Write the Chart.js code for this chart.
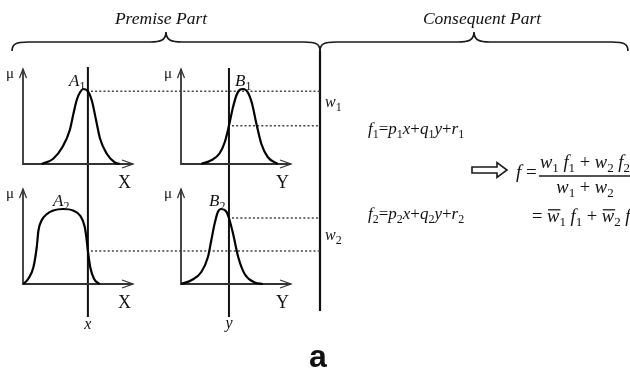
<!DOCTYPE html>
<html>
<head>
<meta charset="utf-8">
<style>
  html, body { margin: 0; padding: 0; background: #fff; }
  canvas { display: block; }
</style>
<script src="https://cdn.jsdelivr.net/npm/chart.js@4.4.1/dist/chart.umd.min.js"></script>
</head>
<body>
<canvas id="anfis" width="630" height="374"></canvas>
<script>
// Two-rule first-order Sugeno system: premise membership functions and consequent formulas

// membership functions: universe value (0..10) and grade (0..1)
const uA1  = [1.7, 2.75, 3.6, 4.25, 4.6, 4.9, 5.2, 5.5, 5.9, 6.25, 6.65, 7.0, 7.6, 8.35, 8.8];
const muA1 = [0, 0.07, 0.23, 0.45, 0.68, 0.86, 0.96, 1.0, 0.97, 0.85, 0.58, 0.34, 0.14, 0.02, 0];
const uB1  = [1.85, 2.75, 3.5, 4.0, 4.36, 4.7, 5.05, 5.35, 5.65, 6.05, 6.45, 6.85, 7.3, 7.9, 8.8];
const muB1 = [0, 0.05, 0.14, 0.3, 0.51, 0.74, 0.92, 0.99, 1.0, 0.96, 0.81, 0.54, 0.27, 0.09, 0];
const uA2  = [0.03, 0.48, 0.94, 1.25, 1.4, 1.7, 2.15, 2.75, 3.65, 4.55, 5.2, 5.6, 5.78, 5.9, 6.12, 6.45, 6.95];
const muA2 = [0, 0.07, 0.22, 0.49, 0.71, 0.85, 0.93, 0.98, 1.0, 0.98, 0.91, 0.77, 0.6, 0.44, 0.22, 0.07, 0];
const uB2  = [0.03, 0.94, 1.85, 2.45, 2.75, 3.05, 3.35, 3.65, 4.1, 4.36, 4.75, 5.2, 5.8, 6.7, 7.45];
const muB2 = [0, 0.05, 0.16, 0.36, 0.58, 0.8, 0.96, 1.0, 0.97, 0.88, 0.66, 0.36, 0.13, 0.02, 0];

// crisp inputs and the grades they hit (A1, B1, A2, B2)
const inputX = 5.9;
const inputY = 4.36;
const firing = [0.97, 0.51, 0.44, 0.88];

// labels
const mfNames = ['A_1', 'B_1', 'A_2', 'B_2'];
const axisNames = ['X', 'Y', 'X', 'Y'];
const ruleWeights = ['w_1', 'w_2'];
const consequents = ['f_1=p_1x+q_1y+r_1', 'f_2=p_2x+q_2y+r_2'];

// ---- layout (page pixels) ----
const W = 630, H = 374;
const UNIT = 11, GRADE = 75, AXIS_LEN = 110, AXIS_TOP = 95;
const panels = [
  { x0: 23,  y0: 164 },
  { x0: 181, y0: 164 },
  { x0: 23,  y0: 284 },
  { x0: 181, y0: 284 }
];
const labelPos = [ { x: 69, y: 86 }, { x: 235, y: 86 }, { x: 53, y: 206 }, { x: 209, y: 206 } ];
const SEP_X = 320;
const SERIF = "'Liberation Serif', 'DejaVu Serif', serif";
const INK = '#111';

const toPage = (p, u, m) => ({ x: p.x0 + u * UNIT, y: p.y0 - m * GRADE });

const mfs = [
  { u: uA1, mu: muA1 }, { u: uB1, mu: muB1 },
  { u: uA2, mu: muA2 }, { u: uB2, mu: muB2 }
];
const inputs = [inputX, inputY, inputX, inputY];

function lineSet(data, opts) {
  return Object.assign({
    data, showLine: true, pointRadius: 0, borderColor: INK, borderWidth: 1.6,
    fill: false, tension: 0
  }, opts || {});
}

const datasets = [];

// membership curves
mfs.forEach((mf, i) => {
  datasets.push(lineSet(mf.u.map((u, k) => toPage(panels[i], u, mf.mu[k])),
    { borderWidth: 2.2, cubicInterpolationMode: 'monotone', borderColor: '#000' }));
});

// dotted level lines from each intersection to the rule separator
mfs.forEach((mf, i) => {
  const s = toPage(panels[i], inputs[i], firing[i]);
  datasets.push(lineSet([{ x: s.x + 3, y: s.y }, { x: SEP_X, y: s.y }],
    { borderDash: [2, 2.2], borderWidth: 1.6, borderColor: '#444' }));
});

// axes with open arrowheads
panels.forEach(p => {
  const top = p.y0 - AXIS_TOP, tip = p.x0 + AXIS_LEN;
  datasets.push(lineSet([{ x: p.x0, y: top }, { x: p.x0, y: p.y0 }, { x: tip, y: p.y0 }],
    { borderColor: '#333', borderWidth: 1.8 }));
  datasets.push(lineSet([{ x: p.x0 - 3.5, y: top + 9 }, { x: p.x0, y: top }, { x: p.x0 + 3.5, y: top + 9 }],
    { borderColor: '#333', borderWidth: 1.3 }));
  datasets.push(lineSet([{ x: tip - 11, y: p.y0 - 4 }, { x: tip, y: p.y0 }, { x: tip - 11, y: p.y0 + 4 }],
    { borderColor: '#333', borderWidth: 1.3 }));
});

// crisp input lines and the separator between premise and consequent
const xLine = panels[0].x0 + inputX * UNIT;
const yLine = panels[1].x0 + inputY * UNIT;
datasets.push(lineSet([{ x: xLine, y: 67 }, { x: xLine, y: 317 }], { borderWidth: 2 }));
datasets.push(lineSet([{ x: yLine, y: 68 }, { x: yLine, y: 317 }], { borderWidth: 2 }));
datasets.push(lineSet([{ x: SEP_X, y: 51 }, { x: SEP_X, y: 311 }], { borderWidth: 2.2 }));

// small math typesetter: letters italic, "_c" subscript, "^c" overbar
function mathText(ctx, src, x, y, size, align) {
  const runs = [];
  for (let i = 0; i < src.length; i++) {
    let ch = src[i], sub = false, bar = false;
    if (ch === '^') { bar = true; ch = src[++i]; }
    if (ch === '_') { sub = true; ch = src[++i]; }
    runs.push({ ch, sub, bar });
  }
  const fontFor = r => {
    const s = r.sub ? Math.round(size * 0.72) : size;
    return (/[a-zA-Z]/.test(r.ch) ? 'italic ' : '') + s + 'px ' + SERIF;
  };
  let total = 0;
  runs.forEach(r => {
    ctx.font = fontFor(r);
    r.w = r.ch === ' ' ? size * 0.25 : ctx.measureText(r.ch).width;
    total += r.w;
  });
  let cx = align === 'center' ? x - total / 2 : x;
  ctx.textAlign = 'left';
  ctx.textBaseline = 'alphabetic';
  runs.forEach(r => {
    if (r.ch !== ' ') {
      ctx.font = fontFor(r);
      ctx.fillText(r.ch, cx, r.sub ? y + size * 0.24 : y);
    }
    if (r.bar) {
      ctx.beginPath();
      ctx.lineWidth = 1.3;
      ctx.moveTo(cx + 1, y - size * 0.66);
      ctx.lineTo(cx + r.w + 1, y - size * 0.66);
      ctx.stroke();
    }
    cx += r.w;
  });
  return total;
}

function brace(ctx, x1, x2, yEnd, yTop, yCusp) {
  const mid = (x1 + x2) / 2;
  ctx.beginPath();
  ctx.moveTo(x1, yEnd);
  ctx.bezierCurveTo(x1, yTop + 2, x1 + 4, yTop, x1 + 16, yTop);
  ctx.lineTo(mid - 16, yTop);
  ctx.bezierCurveTo(mid - 5, yTop, mid, yTop - 2, mid, yCusp);
  ctx.bezierCurveTo(mid, yTop - 2, mid + 5, yTop, mid + 16, yTop);
  ctx.lineTo(x2 - 16, yTop);
  ctx.bezierCurveTo(x2 - 4, yTop, x2, yTop + 2, x2, yEnd);
  ctx.stroke();
}

const decorations = {
  id: 'decorations',
  afterDraw(chart) {
    const ctx = chart.ctx;
    const sx = v => chart.scales.x.getPixelForValue(v);
    const sy = v => chart.scales.y.getPixelForValue(v);
    ctx.save();
    ctx.fillStyle = INK;
    ctx.strokeStyle = '#1a1a1a';
    ctx.lineWidth = 1.7;

    // section braces and titles
    brace(ctx, sx(12), sx(SEP_X), sy(51), sy(42), sy(32));
    brace(ctx, sx(SEP_X), sx(628), sy(51), sy(42), sy(32));
    ctx.textAlign = 'center';
    ctx.textBaseline = 'alphabetic';
    ctx.font = 'italic 17.5px ' + SERIF;
    ctx.fillText('Premise Part', sx(161), sy(24));
    ctx.fillText('Consequent Part', sx(482), sy(24));

    // panel labels
    panels.forEach((p, i) => {
      ctx.font = '15px ' + SERIF;
      ctx.textAlign = 'center';
      ctx.fillText('\u03bc', sx(p.x0 - 13), sy(p.y0 - 86));
      ctx.font = '18px ' + SERIF;
      ctx.textAlign = 'left';
      ctx.fillText(axisNames[i], sx(p.x0 + 95), sy(p.y0 + 24));
      mathText(ctx, mfNames[i], sx(labelPos[i].x), sy(labelPos[i].y), 17, 'left');
    });
    mathText(ctx, 'x', sx(xLine), sy(329), 16, 'center');
    mathText(ctx, 'y', sx(yLine), sy(328), 16, 'center');

    // rule weights next to the separator
    mathText(ctx, ruleWeights[0], sx(325), sy(107), 16, 'left');
    mathText(ctx, ruleWeights[1], sx(325), sy(240), 16, 'left');

    // consequent polynomials
    mathText(ctx, consequents[0], sx(368), sy(134), 17, 'left');
    mathText(ctx, consequents[1], sx(368), sy(219), 17, 'left');

    // hollow implication arrow
    ctx.beginPath();
    ctx.lineWidth = 1.6;
    ctx.moveTo(sx(472), sy(167)); ctx.lineTo(sx(497), sy(167));
    ctx.lineTo(sx(497), sy(162.5)); ctx.lineTo(sx(507), sy(170));
    ctx.lineTo(sx(497), sy(177.5)); ctx.lineTo(sx(497), sy(173));
    ctx.lineTo(sx(472), sy(173)); ctx.closePath();
    ctx.stroke();

    // weighted average output
    mathText(ctx, 'f =', sx(516), sy(178), 19, 'left');
    mathText(ctx, 'w_1 f_1 + w_2 f_2', sx(540), sy(168), 18.5, 'left');
    ctx.beginPath();
    ctx.lineWidth = 1.3;
    ctx.moveTo(sx(539), sy(176)); ctx.lineTo(sx(634), sy(176));
    ctx.stroke();
    mathText(ctx, 'w_1 + w_2', sx(585), sy(193), 18.5, 'center');
    mathText(ctx, '= ^w_1 f_1 + ^w_2 f_2', sx(532), sy(222), 18.5, 'left');

    // sub-figure letter
    ctx.font = "bold 32px 'Liberation Sans', Arial, sans-serif";
    ctx.textAlign = 'center';
    ctx.fillText('a', sx(318), sy(367));
    ctx.restore();
  }
};

new Chart(document.getElementById('anfis'), {
  type: 'scatter',
  data: { datasets },
  options: {
    responsive: false,
    animation: false,
    events: [],
    layout: { padding: 0 },
    plugins: { legend: { display: false }, tooltip: { enabled: false } },
    scales: {
      x: { type: 'linear', min: 0, max: W, display: false },
      y: { type: 'linear', min: 0, max: H, reverse: true, display: false }
    }
  },
  plugins: [decorations]
});
</script>
</body>
</html>
